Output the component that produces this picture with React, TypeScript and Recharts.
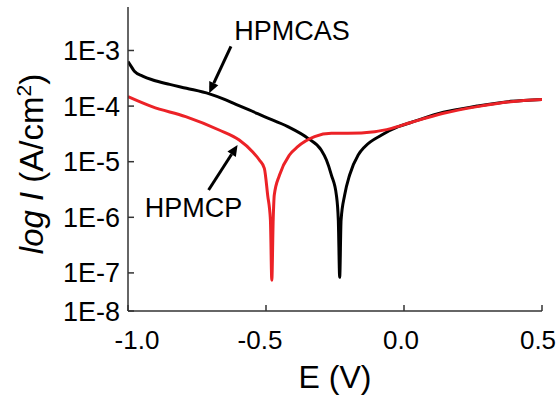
import {
  LineChart,
  Line,
  XAxis,
  YAxis,
  ReferenceLine,
  ReferenceDot,
  Label,
} from "recharts";

// HPMCAS polarization curve (E in V, log10 of current density)
const casE = [-1.0, -0.988, -0.976, -0.947, -0.91, -0.849, -0.788, -0.705, -0.655, -0.609, -0.561, -0.506, -0.421, -0.348, -0.3, -0.281, -0.263, -0.245, -0.238, -0.233, -0.228, -0.215, -0.197, -0.166, -0.142, -0.081, -0.021, 0.022, 0.143, 0.265, 0.386, 0.5];
const casLog = [-3.2, -3.29, -3.38, -3.46, -3.53, -3.61, -3.68, -3.78, -3.87, -3.97, -4.07, -4.19, -4.37, -4.58, -4.79, -4.97, -5.24, -5.6, -6.05, -7.08, -6.05, -5.6, -5.24, -4.88, -4.73, -4.52, -4.37, -4.3, -4.11, -4.0, -3.915, -3.88];

// HPMCP polarization curve
const cpE = [-1.0, -0.913, -0.791, -0.67, -0.597, -0.549, -0.524, -0.506, -0.494, -0.484, -0.479, -0.474, -0.47, -0.451, -0.415, -0.385, -0.324, -0.263, -0.203, -0.106, -0.045, 0.022, 0.143, 0.265, 0.386, 0.5];
const cpLog = [-3.83, -4.01, -4.19, -4.43, -4.61, -4.82, -4.97, -5.12, -5.6, -6.05, -7.13, -6.05, -5.6, -5.24, -4.88, -4.73, -4.55, -4.49, -4.49, -4.46, -4.4, -4.3, -4.13, -4.01, -3.92, -3.88];

const xTicks = [-1.0, -0.5, 0.0, 0.5];
const yTickValues = [-7.685, -7, -6, -5, -4, -3];
const yTickLabels = ["1E-8", "1E-7", "1E-6", "1E-5", "1E-4", "1E-3"];

const casData = casE.map((e, i) => ({ E: e, logI: casLog[i] }));
const cpData = cpE.map((e, i) => ({ E: e, logI: cpLog[i] }));

const FONT = "'Liberation Sans', Arial, sans-serif";
const RED = "#ec2227";
// label nudges, as in the original figure
const xTickShift = [9, -6, -3, -4];

const Arrow = (props: any) => {
  const { x1, y1, x2, y2 } = props;
  const dx = x2 - x1;
  const dy = y2 - y1;
  const len = Math.sqrt(dx * dx + dy * dy);
  const ux = dx / len;
  const uy = dy / len;
  const head = 11;
  const half = 5;
  const bx = x2 - ux * head;
  const by = y2 - uy * head;
  return (
    <g>
      <line x1={x1} y1={y1} x2={bx} y2={by} stroke="#000" strokeWidth={3} />
      <polygon
        points={`${x2},${y2} ${bx - uy * half},${by + ux * half} ${bx + uy * half},${by - ux * half}`}
        fill="#000"
      />
    </g>
  );
};

const textShape = (label: string) => (props: any) => (
  <text x={props.cx} y={props.cy} fontFamily={FONT} fontSize={27} fill="#000">
    {label}
  </text>
);

const XTick = (props: any) => {
  const { x, y, payload, index } = props;
  return (
    <text
      x={x + (xTickShift[index] || 0)}
      y={y}
      dy={19}
      textAnchor="middle"
      fontFamily={FONT}
      fontSize={26}
      fill="#000"
    >
      {Number(payload.value).toFixed(1)}
    </text>
  );
};

const renderYLabel = () => {
  const cx = 43;
  const cy = 164;
  return (
    <text
      x={cx}
      y={cy}
      transform={`rotate(-90, ${cx}, ${cy})`}
      textAnchor="middle"
      fontFamily={FONT}
      fontSize={33}
      fill="#000"
    >
      <tspan fontStyle="italic">log I</tspan>
      <tspan> (A/cm</tspan>
      <tspan dy={-12} fontSize={21}>2</tspan>
      <tspan dy={12}>)</tspan>
    </text>
  );
};

export default function App() {
  return (
    <div style={{ position: "absolute", left: 0, top: 0, background: "#fff" }}>
      <LineChart
        width={557}
        height={398}
        margin={{ top: 7, right: 15, bottom: 0, left: 0 }}
      >
        <XAxis
          dataKey="E"
          type="number"
          domain={[-1, 0.5]}
          ticks={xTicks}
          height={87}
          tickSize={-6}
          tickMargin={25}
          stroke="#333"
          strokeWidth={1.5}
          tick={<XTick />}
          allowDataOverflow
        >
          <Label
            value="E (V)"
            position="insideBottom"
            offset={10}
            style={{ fontSize: 32, fontFamily: FONT, fill: "#000" }}
          />
        </XAxis>
        <XAxis
          xAxisId="top"
          orientation="top"
          type="number"
          domain={[-1, 0.5]}
          height={0}
          tick={false}
          tickLine={false}
          stroke="#777"
        />
        <YAxis
          type="number"
          domain={[-7.685, -2.218]}
          ticks={yTickValues}
          tickFormatter={(v: number, i: number) => yTickLabels[i]}
          width={128}
          tickSize={-6}
          tickMargin={14}
          stroke="#333"
          strokeWidth={1.5}
          tick={{ fill: "#000", fontSize: 27, fontFamily: FONT }}
          allowDataOverflow
        >
          <Label content={renderYLabel} />
        </YAxis>
        <YAxis
          yAxisId="right"
          orientation="right"
          type="number"
          domain={[-7.685, -2.218]}
          width={0}
          tick={false}
          tickLine={false}
          stroke="#222"
          strokeWidth={2}
        />
        <Line
          data={casData}
          dataKey="logI"
          type="monotone"
          stroke="#000"
          strokeWidth={3}
          dot={false}
          isAnimationActive={false}
        />
        <Line
          data={cpData}
          dataKey="logI"
          type="monotone"
          stroke={RED}
          strokeWidth={3}
          dot={false}
          isAnimationActive={false}
        />
        <ReferenceLine
          segment={[
            { x: -0.627, y: -2.928 },
            { x: -0.706, y: -3.768 },
          ]}
          shape={Arrow}
        />
        <ReferenceLine
          segment={[
            { x: -0.708, y: -5.51 },
            { x: -0.603, y: -4.7 },
          ]}
          shape={Arrow}
        />
        <ReferenceDot x={-0.615} y={-2.807} r={0} shape={textShape("HPMCAS")} />
        <ReferenceDot x={-0.939} y={-5.991} r={0} shape={textShape("HPMCP")} />
      </LineChart>
    </div>
  );
}
